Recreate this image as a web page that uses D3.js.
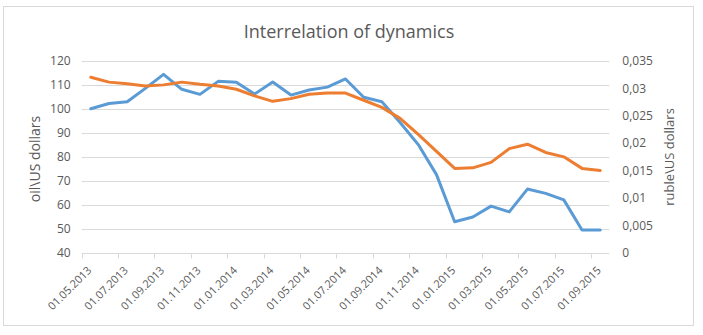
<!DOCTYPE html>
<html>
<head>
<meta charset="utf-8">
<script src="https://cdn.jsdelivr.net/npm/d3@7"></script>
<style>
  html, body { margin: 0; padding: 0; background: #fff; }
  svg { display: block; }
  text { font-family: "Open Sans", "Noto Sans", sans-serif; fill: #595959; }
</style>
</head>
<body>
<svg id="chart" width="703" height="335"></svg>
<script>
// Monthly observations, first day of each month
const months = [
  "01.05.2013","01.06.2013","01.07.2013","01.08.2013","01.09.2013","01.10.2013","01.11.2013","01.12.2013",
  "01.01.2014","01.02.2014","01.03.2014","01.04.2014","01.05.2014","01.06.2014","01.07.2014","01.08.2014",
  "01.09.2014","01.10.2014","01.11.2014","01.12.2014",
  "01.01.2015","01.02.2015","01.03.2015","01.04.2015","01.05.2015","01.06.2015","01.07.2015","01.08.2015","01.09.2015"
];
// Oil price, US dollars per barrel (left axis)
const oilPrice = [
  100.0, 102.2, 102.9, 108.5, 114.3, 108.1, 106.0, 111.4,
  111.0, 106.1, 111.1, 105.7, 107.8, 109.0, 112.4, 104.8,
  102.9, 94.3, 85.1, 72.6,
  53.0, 55.0, 59.5, 57.1, 66.6, 64.8, 62.1, 49.6, 49.6
];
// Ruble exchange rate, US dollars per ruble (right axis)
const rubleUsd = [
  0.0320, 0.0311, 0.0308, 0.0304, 0.0306, 0.0311, 0.0307, 0.0304,
  0.0298, 0.0286, 0.0276, 0.0281, 0.0289, 0.0291, 0.0291, 0.0278,
  0.0265, 0.0245, 0.0216, 0.0185,
  0.0154, 0.0155, 0.0165, 0.0190, 0.0198, 0.0183, 0.0175, 0.0154, 0.0150
];
const leftTicks = [40, 50, 60, 70, 80, 90, 100, 110, 120];
const rightTicks = [0, 0.005, 0.01, 0.015, 0.02, 0.025, 0.03, 0.035];
const dateLabels = months.filter((d, i) => i % 2 === 0);

const titleText = "Interrelation of dynamics";
const leftTitle = "oil\\US dollars";
const rightTitle = "ruble\\US dollars";

const svg = d3.select("#chart");
const plot = { left: 81.7, right: 609.3, top: 60.7, bottom: 253 };

const locale = d3.formatLocale({ decimal: ",", thousands: " ", grouping: [3], currency: ["", ""] });
const fmtRight = locale.format(".3~f");

const x = d3.scaleBand().domain(months).range([plot.left, plot.right]).padding(0);
const yL = d3.scaleLinear().domain([40, 120]).range([plot.bottom, plot.top]);
const yR = d3.scaleLinear().domain([0, 0.035]).range([plot.bottom, plot.top]);
const cx = d => x(d) + x.bandwidth() / 2;

// chart frame
svg.append("rect")
  .attr("x", 3.5).attr("y", 6.5).attr("width", 690).attr("height", 319)
  .attr("fill", "#fff").attr("stroke", "#d9d9d9").attr("stroke-width", 1);

// title
svg.append("text")
  .attr("x", 349).attr("y", 38)
  .attr("text-anchor", "middle")
  .style("font-size", "18px")
  .text(titleText);

// horizontal gridlines
svg.append("g")
  .selectAll("line")
  .data(leftTicks.filter(t => t !== 40))
  .join("line")
  .attr("x1", plot.left).attr("x2", plot.right)
  .attr("y1", d => Math.round(yL(d)) + 0.5).attr("y2", d => Math.round(yL(d)) + 0.5)
  .attr("stroke", "#d9d9d9").attr("stroke-width", 1);

// left axis labels
const leftAxis = svg.append("g")
  .attr("transform", `translate(${plot.left},0)`)
  .call(d3.axisLeft(yL).tickValues(leftTicks).tickSize(0).tickPadding(11));
leftAxis.select(".domain").remove();
leftAxis.selectAll("text").style("font-size", "12px").attr("fill", "#595959").attr("font-family", null);

// right axis labels
const rightAxis = svg.append("g")
  .attr("transform", `translate(${plot.right},0)`)
  .call(d3.axisRight(yR).tickValues(rightTicks).tickFormat(fmtRight).tickSize(0).tickPadding(13));
rightAxis.select(".domain").remove();
rightAxis.selectAll("text").style("font-size", "12px").attr("fill", "#595959").attr("font-family", null);

// bottom axis: line, tick marks at the start of every second month, rotated labels
const baseY = Math.round(plot.bottom) + 0.5;
svg.append("line")
  .attr("x1", plot.left).attr("x2", plot.right)
  .attr("y1", baseY).attr("y2", baseY)
  .attr("stroke", "#d9d9d9").attr("stroke-width", 1);
svg.append("g")
  .selectAll("line")
  .data(dateLabels)
  .join("line")
  .attr("x1", d => Math.round(x(d)) + 0.5).attr("x2", d => Math.round(x(d)) + 0.5)
  .attr("y1", baseY).attr("y2", baseY + 5)
  .attr("stroke", "#d9d9d9").attr("stroke-width", 1);

const bottomAxis = svg.append("g")
  .attr("transform", `translate(0,${plot.bottom})`)
  .call(d3.axisBottom(x).tickValues(dateLabels).tickSize(0).tickPadding(0));
bottomAxis.select(".domain").remove();
bottomAxis.selectAll(".tick text")
  .attr("font-family", null)
  .attr("fill", "#595959")
  .style("font-size", "11px")
  .attr("text-anchor", "end")
  .attr("dy", null)
  .attr("y", 0)
  .attr("transform", "translate(1.5,18) rotate(-45)");

// axis titles
svg.append("text")
  .attr("transform", `translate(40,159) rotate(-90)`)
  .attr("text-anchor", "middle")
  .style("font-size", "14px")
  .text(leftTitle);
svg.append("text")
  .attr("transform", `translate(674,157) rotate(-90)`)
  .attr("text-anchor", "middle")
  .style("font-size", "13px")
  .text(rightTitle);

// series lines
const lineOil = d3.line().x((d, i) => cx(months[i])).y(d => yL(d));
const lineRub = d3.line().x((d, i) => cx(months[i])).y(d => yR(d));

svg.append("path")
  .datum(oilPrice)
  .attr("d", lineOil)
  .attr("fill", "none").attr("stroke", "#5B9BD5").attr("stroke-width", 3)
  .attr("stroke-linejoin", "round").attr("stroke-linecap", "round");
svg.append("path")
  .datum(rubleUsd)
  .attr("d", lineRub)
  .attr("fill", "none").attr("stroke", "#ED7D31").attr("stroke-width", 3)
  .attr("stroke-linejoin", "round").attr("stroke-linecap", "round");
</script>
</body>
</html>
